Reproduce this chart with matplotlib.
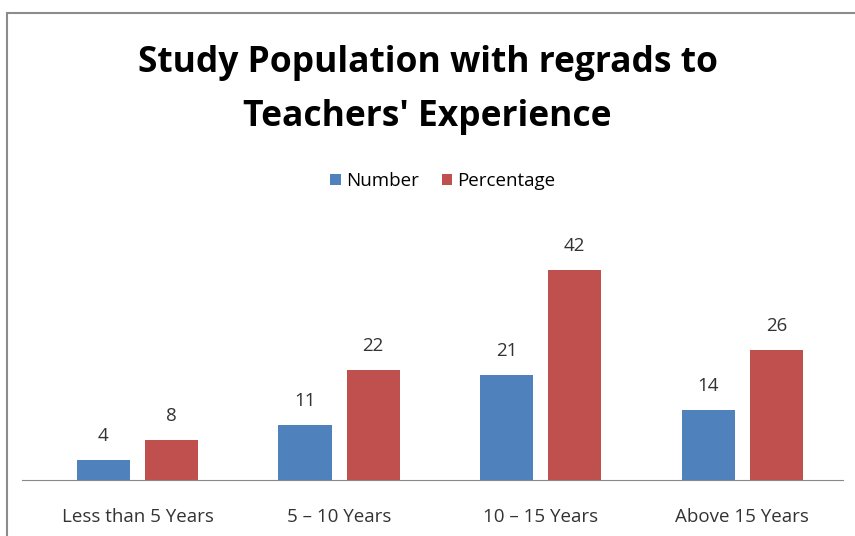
# Study population by teachers' experience
import matplotlib.pyplot as plt
import numpy as np
from matplotlib.patches import Rectangle

categories = ["Less than 5 Years", "5 \u2013 10 Years", "10 \u2013 15 Years", "Above 15 Years"]
number = [4, 11, 21, 14]
percentage = [8, 22, 42, 26]

plt.rcParams['font.family'] = ['Open Sans', 'DejaVu Sans']

W, H = 855, 536
fig = plt.figure(figsize=(W / 100, H / 100), dpi=100)

# chart frame (runs off the right and bottom edges)
fig.patches.append(Rectangle((7 / W, -0.1), 1.2, 1 - 13 / H + 0.1, transform=fig.transFigure,
                             fill=False, edgecolor="#8c8c8c", linewidth=1.5))

ax = fig.add_axes([22 / W, 56 / H, (843 - 22) / W, (480 - 240) / H])
x = np.arange(len(categories))
w = 0.263
off = 0.169
b1 = ax.bar(x - off, number, w, color="#4F81BD", label="Number")
b2 = ax.bar(x + off, percentage, w, color="#C0504D", label="Percentage")
ax.bar_label(b1, padding=11, fontsize=13.5, color="#333333")
ax.bar_label(b2, padding=11, fontsize=13.5, color="#333333")

ax.set_xlim(-0.573, 3.5)
ax.set_ylim(0, 48)
ax.set_xticks(x)
ax.set_xticklabels(categories, fontsize=13.5, color="#333333")
ax.tick_params(axis="x", length=0, pad=20)
ax.set_yticks([])
for s in ["top", "right", "left"]:
    ax.spines[s].set_visible(False)
ax.spines["bottom"].set_color("#888888")

fig.text(0.5, 1 - 90 / H, "Study Population with regrads to\nTeachers' Experience",
         ha="center", va="center", fontsize=25.5, fontweight="bold", linespacing=1.65)
fig.legend(loc="center", bbox_to_anchor=(443 / W, 1 - 181 / H), ncol=2, frameon=False,
           fontsize=13.5, handlelength=0.55, handleheight=0.55, handletextpad=0.3, columnspacing=1.2)

fig.savefig("out.png", dpi=100)
